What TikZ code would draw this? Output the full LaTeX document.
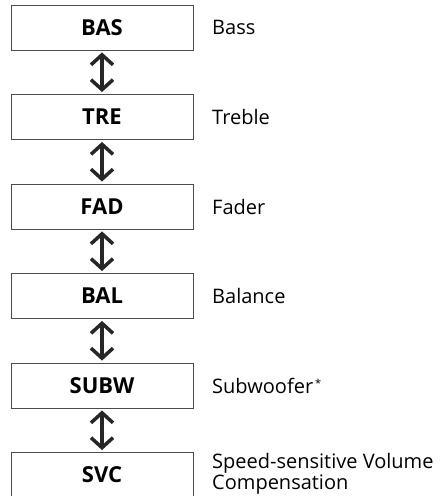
\documentclass[tikz,border=0pt]{standalone}
\usepackage{fontspec}
\setmainfont{Open Sans}
\usetikzlibrary{arrows.meta}
\begin{document}
\begin{tikzpicture}[x=1pt,y=-1pt,
  mbox/.style={draw=black!70, line width=0.9pt, minimum width=182pt, minimum height=45pt, inner sep=0pt, font=\fontsize{22}{24}\selectfont\bfseries},
  mlabel/.style={anchor=west, inner sep=0pt, align=left, font=\fontsize{20}{21}\selectfont},
  marrow/.style={draw=black!85, line width=3.5pt, {Straight Barb[length=10pt,width=22pt,line width=3.5pt]}-{Straight Barb[length=10pt,width=22pt,line width=3.5pt]}, shorten <=2pt, shorten >=2pt}]
\useasboundingbox (0,0) rectangle (446,496);
\node[mbox] (b1) at (102,27.5) {BAS};
\node[mbox] (b2) at (102,117) {TRE};
\node[mbox] (b3) at (102,206.5) {FAD};
\node[mbox] (b4) at (102,296) {BAL};
\node[mbox] (b5) at (102,385.5) {SUBW};
\node[mbox] (b6) at (102,475) {SVC};
\node[mlabel] (l1) at (212,27.5) {Bass};
\node[mlabel] (l2) at (212,117) {Treble};
\node[mlabel] (l3) at (212,206.5) {Fader};
\node[mlabel] (l4) at (212,296) {Balance};
\node[mlabel] (l5) at (212,385.5) {Subwoofer{\fontsize{11}{11}\selectfont\raisebox{0.9ex}{\,*}}};
\node[mlabel] (l6) at (212,474) {Speed-sensitive Volume\\Compensation};
\foreach \a/\b in {b1/b2,b2/b3,b3/b4,b4/b5,b5/b6}
  \draw[marrow] (\a.south) -- (\b.north);
\end{tikzpicture}
\end{document}
